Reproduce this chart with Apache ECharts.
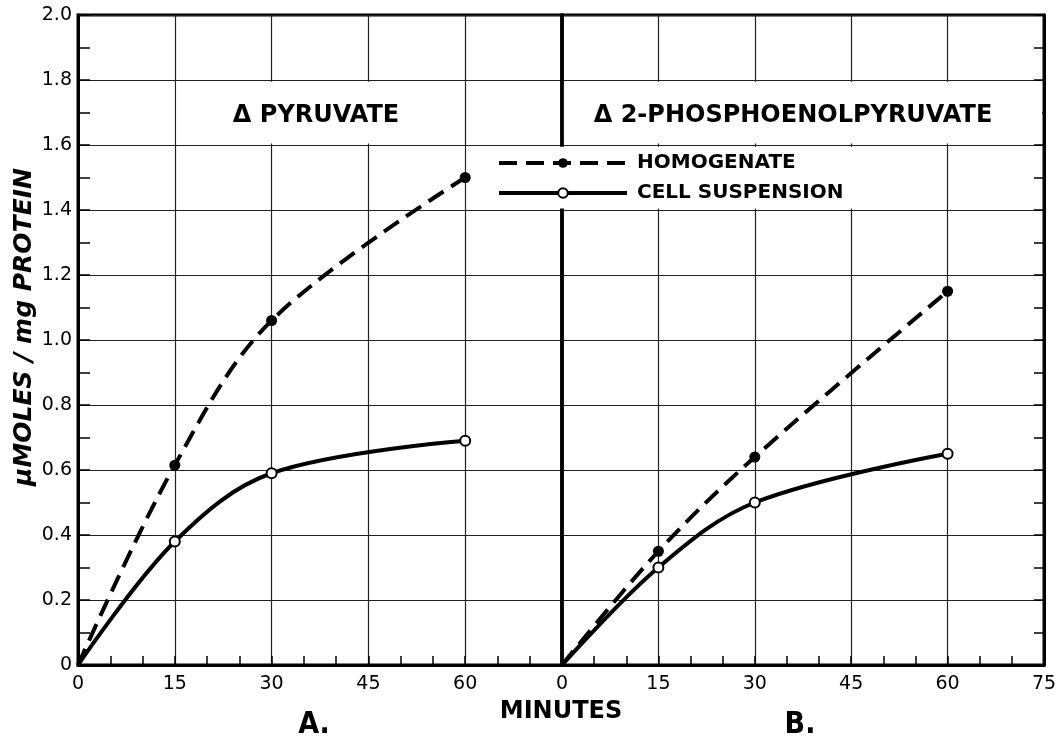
<!DOCTYPE html>
<html>
<head>
<meta charset="utf-8">
<script src="https://cdn.jsdelivr.net/npm/echarts@6/dist/echarts.min.js"></script>
<style>
  html, body { margin: 0; padding: 0; background: #fff; }
  #chart { width: 1061px; height: 743px; }
</style>
</head>
<body>
<div id="chart"></div>
<script>
// ---- data ----
const minutes = [0, 15, 30, 60];
const pyruvateHomogenate = [0, 0.615, 1.06, 1.50];
const pyruvateCell = [0, 0.38, 0.59, 0.69];
const pepHomogenate = [0, 0.35, 0.64, 1.15];
const pepCell = [0, 0.30, 0.50, 0.65];
const xTickLabelsA = [0, 15, 30, 45, 60];
const xTickLabelsB = [0, 15, 30, 45, 60, 75];
const seriesNames = ['HOMOGENATE', 'CELL SUSPENSION'];
const panelTitles = ['\u0394 PYRUVATE', '\u0394 2-PHOSPHOENOLPYRUVATE'];
const panelLetters = ['A.', 'B.'];
const xTitle = 'MINUTES';
const yTitle = '\u03bcMOLES / mg PROTEIN';

const FONT = 'DejaVu Sans';
const pairs = arr => minutes.map((m, i) => [m, arr[i]]);

function xAxisCfg(gridIndex, labels) {
  return {
    type: 'value', gridIndex, min: 0, max: 75, interval: 15,
    axisLine: { lineStyle: { color: '#000', width: 3 } },
    axisTick: { show: true, inside: true, length: 9, lineStyle: { color: '#000', width: 1.5 } },
    minorTick: { show: true, splitNumber: 3, length: 9, lineStyle: { color: '#000', width: 1.5 } },
    splitLine: { show: true, lineStyle: { color: '#222', width: 1.2 } },
    axisLabel: {
      color: '#000', fontSize: 19, fontFamily: FONT, margin: 10,
      formatter: v => (labels.indexOf(v) >= 0 ? String(v) : '')
    }
  };
}
const yBase = { type: 'value', min: 0, max: 2, interval: 0.2 };

const homStyle = {
  type: 'line', smooth: 0.35,
  symbol: 'circle',
  symbolSize: (v) => (v[0] === 0 ? 0 : 11),
  itemStyle: { color: '#000' },
  lineStyle: { color: '#000', width: 4, type: [18, 9] },
  z: 5
};
const cellStyle = {
  type: 'line', smooth: 0.35,
  symbol: 'circle',
  symbolSize: (v) => (v[0] === 0 ? 0 : 10),
  itemStyle: { color: '#fff', borderColor: '#000', borderWidth: 2 },
  lineStyle: { color: '#000', width: 4, type: 'solid' },
  z: 6
};
const whiteArea = { silent: true, itemStyle: { color: '#fff', opacity: 1 }, label: { show: false } };

const chart = echarts.init(document.getElementById('chart'), null, { renderer: 'canvas' });
chart.setOption({
  backgroundColor: '#fff',
  animation: false,
  grid: [
    { left: 78, top: 15, width: 484, height: 650, show: true, borderColor: '#000', borderWidth: 3 },
    { left: 562, top: 15, width: 482, height: 650, show: true, borderColor: '#000', borderWidth: 3 }
  ],
  xAxis: [xAxisCfg(0, xTickLabelsA), xAxisCfg(1, xTickLabelsB)],
  yAxis: [
    Object.assign({}, yBase, {
      gridIndex: 0,
      axisLine: { show: true, lineStyle: { color: '#000', width: 3 } },
      axisTick: { show: true, inside: true, length: 12, lineStyle: { color: '#000', width: 1.5 } },
      minorTick: { show: true, splitNumber: 2, length: 12, lineStyle: { color: '#000', width: 1.5 } },
      splitLine: { show: true, lineStyle: { color: '#222', width: 1.2 } },
      axisLabel: {
        color: '#000', fontSize: 19, fontFamily: FONT, margin: 6,
        formatter: v => (v === 0 ? '0' : v.toFixed(1))
      }
    }),
    Object.assign({}, yBase, {
      gridIndex: 1,
      axisLine: { show: true, lineStyle: { color: '#000', width: 3.5 } },
      axisTick: { show: false },
      axisLabel: { show: false },
      splitLine: { show: true, lineStyle: { color: '#222', width: 1.2 } }
    }),
    Object.assign({}, yBase, {
      gridIndex: 1, position: 'right',
      axisLine: { show: true, lineStyle: { color: '#000', width: 3 } },
      axisTick: { show: true, inside: true, length: 10, lineStyle: { color: '#000', width: 1.5 } },
      minorTick: { show: true, splitNumber: 2, length: 10, lineStyle: { color: '#000', width: 1.5 } },
      axisLabel: { show: false },
      splitLine: { show: false }
    })
  ],
  legend: {
    orient: 'vertical', left: 497, top: 153, padding: 0,
    itemWidth: 128, itemHeight: 12, itemGap: 10,
    data: seriesNames,
    lineStyle: { width: 4 },
    textStyle: { color: '#000', fontSize: 20, fontWeight: 'bold', fontFamily: FONT, lineHeight: 20, padding: [0, 0, 0, 5] }
  },
  series: [
    Object.assign({}, homStyle, {
      name: seriesNames[0], xAxisIndex: 0, yAxisIndex: 0, data: pairs(pyruvateHomogenate),
      markArea: Object.assign({}, whiteArea, {
        data: [
          [{ coord: [15.25, 1.605] }, { coord: [59.75, 1.795] }],
          [{ coord: [60.25, 1.405] }, { coord: [75, 1.595] }]
        ]
      })
    }),
    Object.assign({}, cellStyle, {
      name: seriesNames[1], xAxisIndex: 0, yAxisIndex: 0, data: pairs(pyruvateCell)
    }),
    Object.assign({}, homStyle, {
      name: seriesNames[0], xAxisIndex: 1, yAxisIndex: 1, data: pairs(pepHomogenate),
      markArea: Object.assign({}, whiteArea, {
        data: [
          [{ coord: [0.3, 1.605] }, { coord: [74.7, 1.795] }],
          [{ coord: [0, 1.405] }, { coord: [59.75, 1.595] }]
        ]
      })
    }),
    Object.assign({}, cellStyle, {
      name: seriesNames[1], xAxisIndex: 1, yAxisIndex: 1, data: pairs(pepCell)
    })
  ],
  graphic: [
    { type: 'text', x: 316, y: 116, z: 100, style: { text: panelTitles[0], fill: '#000', font: 'bold 24px "DejaVu Sans"', align: 'center', verticalAlign: 'middle' } },
    { type: 'text', x: 793, y: 116, z: 100, style: { text: panelTitles[1], fill: '#000', font: 'bold 24px "DejaVu Sans"', align: 'center', verticalAlign: 'middle' } },
    { type: 'text', x: 561, y: 712, z: 100, style: { text: xTitle, fill: '#000', font: 'bold 24px "DejaVu Sans"', align: 'center', verticalAlign: 'middle' } },
    { type: 'text', x: 314, y: 725, z: 100, style: { text: panelLetters[0], fill: '#000', font: 'bold 30px "DejaVu Sans Condensed", "Liberation Sans Narrow", "DejaVu Sans"', align: 'center', verticalAlign: 'middle' } },
    { type: 'text', x: 800, y: 725, z: 100, style: { text: panelLetters[1], fill: '#000', font: 'bold 30px "DejaVu Sans Condensed", "Liberation Sans Narrow", "DejaVu Sans"', align: 'center', verticalAlign: 'middle' } },
    { type: 'text', x: 24, y: 327, rotation: Math.PI / 2, z: 100, style: { text: yTitle, fill: '#000', font: 'italic bold 25px "DejaVu Sans"', align: 'center', verticalAlign: 'middle' } }
  ]
});
</script>
</body>
</html>
